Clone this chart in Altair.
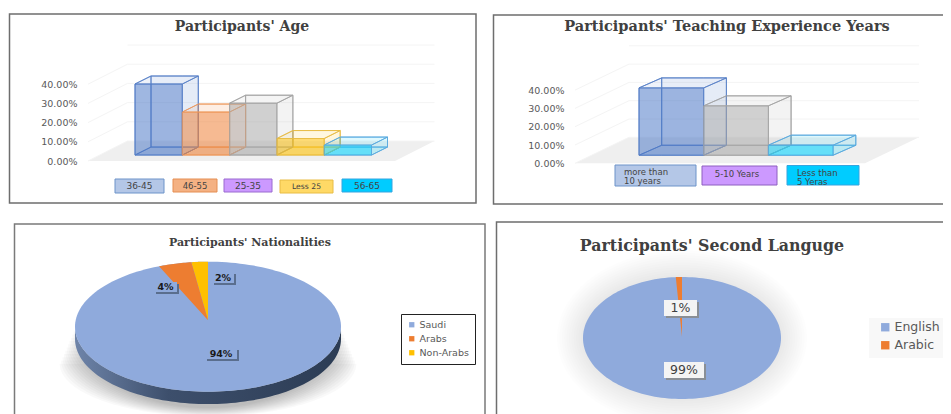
import math
import altair as alt
import pandas as pd

# ---------- data ----------
AGE_TITLE = "Participants' Age"
AGE_CATS = ["36-45", "46-55", "25-35", "Less 25", "56-65"]
AGE_VALS = [0.37, 0.224, 0.27, 0.086, 0.052]

EXP_TITLE = "Participants' Teaching Experience Years"
EXP_CATS = ["more than 10 years", "5-10 Years", "Less than 5 Yeras"]
EXP_VALS = [0.368, 0.27, 0.055]

NAT_TITLE = "Participants' Nationalities"
NAT_CATS = ["Saudi", "Arabs", "Non-Arabs"]
NAT_VALS = [94, 4, 2]

LANG_TITLE = "Participants' Second Languge"
LANG_CATS = ["English", "Arabic"]
LANG_VALS = [99, 1]

TICKS = [0, 0.1, 0.2, 0.3, 0.4]

# ---------- styling ----------
SERIF = "DejaVu Serif"
SANS = "DejaVu Sans"
TXT = "#595959"
AGE_FILL = ["#4472C4", "#ED7D31", "#A5A5A5", "#FFC000", "#00D4FF"]
AGE_LINE = ["#5B83C8", "#ED9A5F", "#A5A5A5", "#E8BC45", "#5BA9DE"]
EXP_FILL = ["#4472C4", "#A5A5A5", "#00D4FF"]
EXP_LINE = ["#5B83C8", "#A5A5A5", "#5BA9DE"]
PIE3 = ["#8FAADC", "#ED7D31", "#FFC000"]
PIE2 = ["#8FAADC", "#ED7D31"]
ONE = pd.DataFrame({"k": [0]})


def rect(o, x0, x1, y0, y1, **kw):
    return alt.Chart(ONE).mark_rect(**kw).encode(
        x=alt.value(x0 - o[0]), x2=alt.value(x1 - o[0]),
        y=alt.value(y0 - o[1]), y2=alt.value(y1 - o[1]))


def text(o, s, x, y, size, color=TXT, font=SANS, weight="normal", align="center"):
    return alt.Chart(ONE).mark_text(
        text=s, fontSize=size, color=color, font=font, fontWeight=weight,
        align=align, baseline="middle").encode(
        x=alt.value(x - o[0]), y=alt.value(y - o[1]))


def para(kind, cat, xl, xr, shift_x, ylo, shift_y):
    """Parallelogram as an x-monotone band (top / floor faces of the 3-D bars)."""
    return [
        dict(face=kind, cat=cat, x=xl, y=ylo, y2=ylo),
        dict(face=kind, cat=cat, x=xl + shift_x, y=ylo, y2=ylo + shift_y),
        dict(face=kind, cat=cat, x=xr, y=ylo, y2=ylo + shift_y),
        dict(face=kind, cat=cat, x=xr + shift_x, y=ylo + shift_y, y2=ylo + shift_y),
    ]


def bar_panel(o, size, title, title_xy, title_size, cats, vals, fills, lines,
              x0, bw, y0, unit, base, bar_dx, bar_dy,
              floor_l, floor_r, floor_dx, floor_dy, axis_offset, frame):
    W, H = size
    xs = alt.Scale(domain=[(o[0] - x0) / bw, (o[0] + W - x0) / bw], nice=False, zero=False)
    ys = alt.Scale(domain=[(y0 - (o[1] + H)) / unit, (y0 - o[1]) / unit], nice=False, zero=False)
    X = alt.X("x:Q", scale=xs, axis=None)
    Y = alt.Y("y:Q", scale=ys, stack=None, title=None, axis=alt.Axis(
        values=TICKS, format=".2%", offset=axis_offset, domain=False, ticks=False,
        grid=False, labelPadding=0, labelFont=SANS, labelFontSize=9.5,
        labelColor=TXT, title=None))
    fl = (floor_l - x0) / bw
    fr = (floor_r - x0) / bw
    fdx = floor_dx / bw
    fdy = floor_dy / unit
    ddx = bar_dx / bw
    ddy = bar_dy / unit
    fill = alt.Fill("cat:N", scale=alt.Scale(domain=cats, range=fills), legend=None)
    stroke = alt.Stroke("cat:N", scale=alt.Scale(domain=cats, range=lines), legend=None)

    layers = [rect(o, frame[0], frame[1], frame[2], frame[3], fillOpacity=0,
                   stroke="#6E6E6E", strokeWidth=1.5, clip=True)]

    floor = pd.DataFrame(para("floor", "f", fl, fr, fdx, 0, fdy))
    layers.append(alt.Chart(floor).mark_area(orient="vertical", color="#EFEFEF").encode(
        x=X, y=Y, y2="y2:Q"))

    grid = []
    for t in TICKS + [TICKS[-1] + (TICKS[1] - TICKS[0])]:
        if t <= TICKS[-1]:
            grid.append(dict(level=t, x=fl, y=t, n=0))
        grid.append(dict(level=t, x=fl + fdx, y=t + fdy, n=1))
        grid.append(dict(level=t, x=fr + fdx, y=t + fdy, n=2))
    grid = pd.DataFrame(grid)
    layers.append(alt.Chart(grid).mark_line(color="#F4F4F4", strokeWidth=1).encode(
        x=X, y=Y, detail="level:N", order="n:Q"))

    rows = [dict(cat=c, v=v, i=i) for i, (c, v) in enumerate(zip(cats, vals))]
    back = pd.DataFrame([dict(cat=r["cat"], x=r["i"] + ddx, x2=r["i"] + 1 + ddx,
                              y=base + ddy, y2=base + ddy + r["v"]) for r in rows])
    front = pd.DataFrame([dict(cat=r["cat"], x=r["i"], x2=r["i"] + 1,
                               y=base, y2=base + r["v"]) for r in rows])
    bottom, top, left, right = [], [], [], []
    for r in rows:
        i, c, v = r["i"], r["cat"], r["v"]
        bottom += para("bottom", c, i, i + 1, ddx, base, ddy)
        top += para("top", c, i, i + 1, ddx, base + v, ddy)
        left += [dict(cat=c, x=i, y=base, y2=base + v),
                 dict(cat=c, x=i + ddx, y=base + ddy, y2=base + ddy + v)]
        right += [dict(cat=c, x=i + 1, y=base, y2=base + v),
                  dict(cat=c, x=i + 1 + ddx, y=base + ddy, y2=base + ddy + v)]

    def rect_face(df, op):
        return alt.Chart(df).mark_rect(fillOpacity=op, strokeWidth=1, strokeOpacity=0.85).encode(
            x=X, x2="x2:Q", y=Y, y2="y2:Q", fill=fill, stroke=stroke)

    def area_face(rows_, op):
        return alt.Chart(pd.DataFrame(rows_)).mark_area(
            orient="vertical", fillOpacity=op, strokeWidth=1, strokeOpacity=0.85).encode(
            x=X, y=Y, y2="y2:Q", fill=fill, stroke=stroke)

    layers += [rect_face(back, 0.06), area_face(left, 0.02), area_face(bottom, 0.15),
               area_face(right, 0.08), area_face(top, 0.07), rect_face(front, 0.5)]
    layers.append(text(o, title, title_xy[0], title_xy[1], title_size,
                       color="#404040", font=SERIF, weight="bold"))
    return layers, W, H


def wedge(cat, f0, f1, ay):
    """Slice on the upper left of the ellipse, unit coordinates, clockwise share f0..f1."""
    pt = lambda f: (-math.sin(2 * math.pi * f), math.cos(2 * math.pi * f))
    x0, y0 = pt(f0)
    x1, y1 = pt(f1)
    out = []
    n = 24
    xs = sorted({x1 + (0 - x1) * k / n for k in range(n + 1)} | {x0})
    for x in xs:
        ell = math.sqrt(max(0, 1 - x * x))
        lo = ay + (y1 - ay) * (x / x1)
        hi = ell if x <= x0 or x0 == 0 else min(ell, ay + (y0 - ay) * (x / x0))
        out.append(dict(cat=cat, x=x, y=lo, y2=hi))
    return out


def ellipse(cat, sx=1.0, sy=1.0, dy=0.0, n=90, sy_top=None):
    out = []
    top = sy if sy_top is None else sy_top
    for k in range(n + 1):
        a = math.pi * k / n
        x = -math.cos(a)
        h = math.sin(a)
        out.append(dict(cat=cat, x=x * sx, y=dy - h * sy, y2=dy + h * top))
    return out


def pie_panel(o, size, cx, cy, rx, ry, cats, vals, colors, ay):
    W, H = size
    xs = alt.Scale(domain=[(o[0] - cx) / rx, (o[0] + W - cx) / rx], nice=False, zero=False)
    ys = alt.Scale(domain=[(cy - (o[1] + H)) / ry, (cy - o[1]) / ry], nice=False, zero=False)
    X = alt.X("x:Q", scale=xs, axis=None)
    Y = alt.Y("y:Q", scale=ys, axis=None, stack=None)
    rows = ellipse(cats[0])
    f = 0.0
    total = sum(vals)
    for c, v in reversed(list(zip(cats[1:], vals[1:]))):
        rows += wedge(c, f, f + v / total, ay)
        f += v / total
    return pd.DataFrame(rows), X, Y


# ---------- panels (page pixels); the usable page ends at x=943 ----------
O_TL, S_TL = (8, 8), (476, 205)
O_TR, S_TR = (484, 8), (459, 205)
O_BL, S_BL = (8, 213), (482, 201)
O_BR, S_BR = (490, 213), (453, 201)

# top left
layers, W, H = bar_panel(O_TL, S_TL, AGE_TITLE, (242, 27), 14, AGE_CATS, AGE_VALS, AGE_FILL, AGE_LINE,
                         135, 47.3, 161, 192, 0.031, 16, 8, 88, 395, 39.5, 20, -69, (9.5, 476, 14, 203))
for cat, x0, x1, y0, y1, fc, sc, fs in [
    (AGE_CATS[0], 115, 164, 179, 193, "#B4C7E7", "#6D93C9", 9),
    (AGE_CATS[1], 173, 217, 179, 192, "#F4B183", "#E58E52", 8.5),
    (AGE_CATS[2], 224, 272, 179, 192, "#CC99FF", "#9A6AD0", 9),
    (AGE_CATS[3], 280, 333, 180, 193, "#FFD966", "#E8BC45", 7.7),
    (AGE_CATS[4], 342, 392, 179, 192, "#00CCFF", "#35A5E0", 9),
]:
    layers.append(rect(O_TL, x0, x1, y0, y1, fill=fc, stroke=sc, strokeWidth=1))
    layers.append(text(O_TL, cat, (x0 + x1) / 2, (y0 + y1) / 2, fs, color="#444444"))
tl = alt.layer(*layers).properties(width=W, height=H)

# top right
layers, W, H = bar_panel(O_TR, S_TR, EXP_TITLE, (727, 27), 14.5, EXP_CATS, EXP_VALS, EXP_FILL, EXP_LINE,
                         639, 64.7, 163.3, 183, 0.044, 22.7, 10, 575, 865, 54, 26, -80, (493.5, 960, 15, 204))
for x0, x1, y0, y1, fc, sc in [
    (615, 696, 165, 186, "#B4C7E7", "#6D93C9"),
    (702, 777, 166, 185, "#CC99FF", "#8E5FC0"),
    (787, 859, 165.5, 185, "#00CCFF", "#35A5E0"),
]:
    layers.append(rect(O_TR, x0, x1, y0, y1, fill=fc, stroke=sc, strokeWidth=1))
for s, x, y, al in [
    ("more than", 624, 172, "left"), ("10 years", 624, 181, "left"),
    ("5-10 Years", 737, 174, "center"),
    ("Less than", 797, 173, "left"), ("5 Yeras", 797, 182, "left"),
]:
    layers.append(text(O_TR, s, x, y, 8.5, color="#444444", align=al))
tr = alt.layer(*layers).properties(width=W, height=H)

# bottom left
cx, cy, rx, ry = 208, 326.7, 133, 65
pie, X, Y = pie_panel(O_BL, S_BL, cx, cy, rx, ry, NAT_CATS, NAT_VALS, PIE3, 0.1)
shadow = []
for k in range(12):
    d = -0.02 - 0.05 * k
    shadow += ellipse(k, 1.0 + 0.0105 * k, 1.25 + 0.012 * k + d, d, sy_top=0.0)
side = pd.DataFrame([dict(x=r["x"], y=r["y"] - 0.19, y2=r["y"]) for r in ellipse("s")])
bl_layers = [
    rect(O_BL, 14.5, 485, 224, 460, fillOpacity=0, stroke="#7A7A7A", strokeWidth=1.5, clip=True),
    alt.Chart(pd.DataFrame(shadow)).mark_area(orient="vertical", color="#000000", opacity=0.022, clip=True).encode(
        x=X, y=Y, y2="y2:Q", detail="cat:N"),
    alt.Chart(side).mark_area(orient="vertical", color=alt.Gradient(
        gradient="linear", x1=0, x2=1, y1=0, y2=0,
        stops=[alt.GradientStop(offset=0, color="#6E84A9"),
               alt.GradientStop(offset=0.35, color="#3D4F6C"),
               alt.GradientStop(offset=1, color="#2C3C54")])).encode(x=X, y=Y, y2="y2:Q"),
    alt.Chart(pie).mark_area(orient="vertical").encode(
        x=X, y=Y, y2="y2:Q",
        color=alt.Color("cat:N", scale=alt.Scale(domain=NAT_CATS, range=PIE3), legend=alt.Legend(
            orient="none", legendX=393, legendY=101, title=None, symbolType="square",
            symbolSize=28, labelFont=SANS, labelFontSize=9.5, labelColor=TXT,
            fillColor="#FFFFFF", strokeColor="#222222", padding=6, rowPadding=3, labelOffset=3))),
]
for s, x0, x1, y0, y1 in [
    ("2%", 212, 234, 272, 283), ("4%", 154, 177, 282, 292), ("94%", 205, 237, 348, 359)]:
    bl_layers.append(rect(O_BL, x0 + 2, x1 + 2, y0 + 2, y1 + 2, fill="#5A6E8E"))
    bl_layers.append(rect(O_BL, x0, x1, y0, y1, fill="#8FAADC"))
    bl_layers.append(text(O_BL, s, (x0 + x1) / 2, (y0 + y1) / 2, 9.5, color="#1A1A1A", weight="bold"))
bl_layers.append(text(O_BL, NAT_TITLE, 250, 243, 11, color="#404040", font=SERIF, weight="bold"))
bl = alt.layer(*bl_layers).properties(width=S_BL[0], height=S_BL[1])

# bottom right
cx, cy, rx, ry = 682, 338, 99, 61
pie, X, Y = pie_panel(O_BR, S_BR, cx, cy, rx, ry, LANG_CATS, LANG_VALS, PIE2, 0.02)
shadow = []
for k in range(12):
    shadow += ellipse(k, 1.0 + 0.024 * k, 1.0 + 0.04 * k, 0)
br_layers = [
    rect(O_BR, 496.5, 960, 222, 460, fillOpacity=0, stroke="#6E6E6E", strokeWidth=1.5, clip=True),
    alt.Chart(pd.DataFrame(shadow)).mark_area(orient="vertical", color="#000000", opacity=0.008, clip=True).encode(
        x=X, y=Y, y2="y2:Q", detail="cat:N"),
    rect(O_BR, 869, 943, 318, 358, fill="#F8F8F8"),
    alt.Chart(pie).mark_area(orient="vertical").encode(
        x=X, y=Y, y2="y2:Q",
        color=alt.Color("cat:N", scale=alt.Scale(domain=LANG_CATS, range=PIE2), legend=alt.Legend(
            orient="none", legendX=389, legendY=108, title=None, symbolType="square",
            symbolSize=70, labelFont=SANS, labelFontSize=12.5, labelColor=TXT,
            padding=0, rowPadding=5, labelOffset=3))),
]
for s, x0, x1, y0, y1 in [("1%", 664, 697, 300, 316), ("99%", 664, 704, 362, 378)]:
    br_layers.append(rect(O_BR, x0 + 2, x1 + 2, y0 + 2, y1 + 2, fill="#8A8F96"))
    br_layers.append(rect(O_BR, x0, x1, y0, y1, fill="#F4F4F4"))
    br_layers.append(text(O_BR, s, (x0 + x1) / 2, (y0 + y1) / 2, 12.5, color="#404040"))
br_layers.append(text(O_BR, LANG_TITLE, 712, 246, 15.8, color="#404040", font=SERIF, weight="bold"))
br = alt.layer(*br_layers).properties(width=S_BR[0], height=S_BR[1])

INDEP = dict(color="independent", fill="independent", stroke="independent")
chart = alt.vconcat(
    alt.hconcat(tl, tr, spacing=0).resolve_scale(**INDEP),
    alt.hconcat(bl, br, spacing=0).resolve_scale(**INDEP),
    spacing=0,
).resolve_scale(**INDEP).properties(padding=0, background="white").configure_view(strokeWidth=0)

chart.save("out.html", embed_options={"renderer": "svg", "actions": False})
